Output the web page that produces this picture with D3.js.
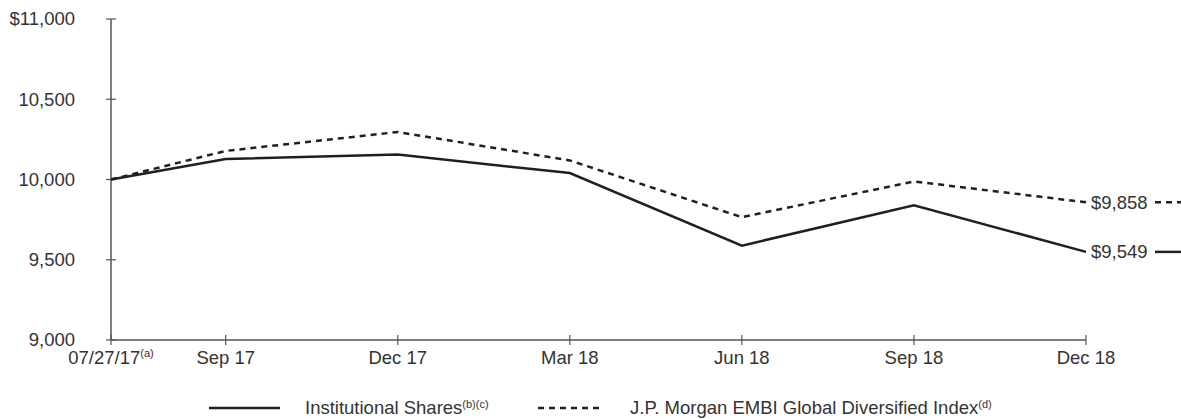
<!DOCTYPE html>
<html>
<head>
<meta charset="utf-8">
<script src="https://cdn.jsdelivr.net/npm/d3@7"></script>
<style>
  html, body { margin: 0; padding: 0; background: #fff; }
  svg { display: block; font-family: "Liberation Sans", Arial, sans-serif; }
</style>
</head>
<body>
<svg id="chart" width="1181" height="419"></svg>
<script>
// Months elapsed since inception (07/27/17) for each plotted period
const monthOffsets = [0, 2, 5, 8, 11, 14, 17];
const periodLabels = ["07/27/17", "Sep 17", "Dec 17", "Mar 18", "Jun 18", "Sep 18", "Dec 18"];
// Growth of $10,000
const institutionalShares = [10000, 10128, 10155, 10040, 9588, 9840, 9549];
const embiIndex = [10000, 10178, 10296, 10119, 9765, 9988, 9858];
const yTicks = [9000, 9500, 10000, 10500, 11000];

const svg = d3.select("#chart");
const ink = "#231f20";
const axisGray = "#555";
const textColor = "#333";
const labelSize = 18.5;

const x = d3.scaleLinear().domain([0, 17]).range([111, 1086]);
const y = d3.scaleLinear().domain([9000, 11000]).range([340, 19]);

// Y axis
const yAxis = svg.append("g").attr("transform", "translate(111,0)");
yAxis.append("line").attr("x1", 0).attr("x2", 0).attr("y1", y(11000)).attr("y2", y(9000))
  .attr("stroke", axisGray).attr("stroke-width", 1.5);
yAxis.selectAll("line.tick").data(yTicks).enter().append("line")
  .attr("class", "tick")
  .attr("x1", -5).attr("x2", 5)
  .attr("y1", d => y(d)).attr("y2", d => y(d))
  .attr("stroke", axisGray).attr("stroke-width", 1.2);
yAxis.selectAll("text").data(yTicks).enter().append("text")
  .attr("x", -36).attr("y", d => y(d)).attr("dy", "0.35em")
  .attr("text-anchor", "end")
  .attr("font-size", labelSize).attr("fill", textColor)
  .text(d => (d === 11000 ? "$" : "") + d3.format(",")(d));

// X axis
const xAxis = svg.append("g").attr("transform", `translate(0,${y(9000)})`);
xAxis.append("line").attr("x1", x(0)).attr("x2", x(17)).attr("y1", 0).attr("y2", 0)
  .attr("stroke", axisGray).attr("stroke-width", 1.5);
xAxis.selectAll("line.tick").data(monthOffsets).enter().append("line")
  .attr("class", "tick")
  .attr("x1", d => x(d)).attr("x2", d => x(d))
  .attr("y1", -5).attr("y2", 5)
  .attr("stroke", axisGray).attr("stroke-width", 1.2);
const xl = xAxis.selectAll("text").data(monthOffsets).enter().append("text")
  .attr("x", d => x(d)).attr("y", 24)
  .attr("text-anchor", "middle")
  .attr("font-size", labelSize).attr("fill", textColor);
xl.append("tspan").text((d, i) => periodLabels[i]);
xl.filter((d, i) => i === 0).append("tspan")
  .attr("font-size", 11).attr("dy", "-0.6em").text("(a)");

// Lines
const line = d3.line().x((d, i) => x(monthOffsets[i])).y(d => y(d));
svg.append("path").datum(embiIndex).attr("d", line)
  .attr("fill", "none").attr("stroke", ink).attr("stroke-width", 2.5)
  .attr("stroke-dasharray", "6,5");
svg.append("path").datum(institutionalShares).attr("d", line)
  .attr("fill", "none").attr("stroke", ink).attr("stroke-width", 2.5);

// End value labels with trailing line samples
const endLabels = [
  { v: embiIndex[embiIndex.length - 1], dash: "6,5" },
  { v: institutionalShares[institutionalShares.length - 1], dash: null }
];
endLabels.forEach(e => {
  svg.append("text").attr("x", x(17) + 5).attr("y", y(e.v)).attr("dy", "0.35em")
    .attr("font-size", labelSize).attr("fill", textColor)
    .text("$" + d3.format(",")(e.v));
  svg.append("line").attr("x1", x(17) + 69).attr("x2", 1181)
    .attr("y1", y(e.v)).attr("y2", y(e.v))
    .attr("stroke", ink).attr("stroke-width", 2.5)
    .attr("stroke-dasharray", e.dash);
});

// Legend
const legendY = 408;
const legend = [
  { name: "Institutional Shares", sup: "(b)(c)", x0: 209, x1: 280, tx: 305, dash: null },
  { name: "J.P. Morgan EMBI Global Diversified Index", sup: "(d)", x0: 538, x1: 600, tx: 630, dash: "6,5" }
];
legend.forEach(l => {
  svg.append("line").attr("x1", l.x0).attr("x2", l.x1).attr("y1", legendY).attr("y2", legendY)
    .attr("stroke", ink).attr("stroke-width", 2.5).attr("stroke-dasharray", l.dash);
  const t = svg.append("text").attr("x", l.tx).attr("y", legendY).attr("dy", "0.35em")
    .attr("font-size", labelSize).attr("fill", textColor);
  t.append("tspan").text(l.name);
  t.append("tspan").attr("font-size", 11).attr("dy", "-0.6em").text(l.sup);
});
</script>
</body>
</html>
